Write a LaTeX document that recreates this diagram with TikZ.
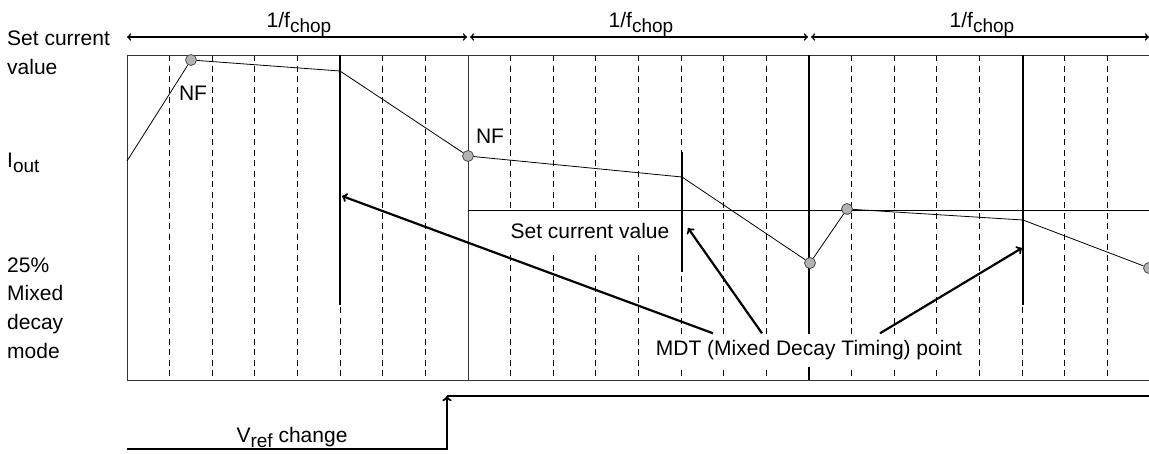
\documentclass[tikz,border=0pt]{standalone}
\usepackage{fontspec}
\setmainfont{Liberation Sans}
\usetikzlibrary{shapes,arrows,positioning,calc}

\newcommand{\lowsub}[1]{\raisebox{-5pt}{\fontsize{19}{20}\selectfont #1}}

\begin{document}
\begin{tikzpicture}[
    x=1pt, y=-1pt,
    every node/.style={font=\fontsize{21}{28.8}\selectfont, inner sep=1pt},
    frame/.style={draw=black!80, line width=1pt},
    divline/.style={dash pattern=on 6pt off 4.5pt, line width=0.8pt},
    mdtline/.style={line width=2.6pt},
    wave/.style={line width=0.8pt},
    nfpoint/.style={circle, draw=black!70, fill=black!30, line width=0.8pt, minimum size=11pt, inner sep=0pt},
    period/.style={line width=1.6pt, <->, >=to},
    pointer/.style={line width=2.2pt, ->, >=to},
    rowname/.style={anchor=west, align=left},
    whitebox/.style={fill=white, inner xsep=4pt}
]
\useasboundingbox (0,0) rectangle (1149,453);

% Chopping periods
\draw[period] (127,37) -- (467,37);
\draw[period] (470,37) -- (808,37);
\draw[period] (811,37) -- (1149,37);
\node[anchor=base] (chop1) at (299,27) {1/f\lowsub{chop}};
\node[anchor=base] (chop2) at (641,27) {1/f\lowsub{chop}};
\node[anchor=base] (chop3) at (982,27) {1/f\lowsub{chop}};

% Row names
\node[rowname] (setname) at (6,53) {Set current\\value};
\node[rowname] (ioutname) at (6,163) {I\lowsub{out}};
\node[rowname] (modename) at (6,308) {25\%\\Mixed\\decay\\mode};

% Frame and time divisions
\foreach \k in {1,...,23}
    \draw[divline] ({127+42.625*\k},55) -- ({127+42.625*\k},380);
\draw[frame] (1149,55) -- (127,55) -- (127,380) -- (1149,380);
\draw[frame] (468,55) -- (468,380);
\draw[wave] (468,210) -- (1149,210);

% MDT points
\draw[mdtline] (340,55) -- (340,305);
\draw[mdtline] (682,152) -- (682,272);
\draw[mdtline] (809,55) -- (809,380);
\draw[mdtline] (1023,55) -- (1023,305);

% Output current
\coordinate (i0) at (127,161);
\coordinate (i2) at (340,71);
\coordinate (i4) at (682,177);
\coordinate (i7) at (1023,220);
\node[nfpoint] (nf1) at (191,60) {};
\node[nfpoint] (nf2) at (468,156) {};
\node[nfpoint] (low1) at (810,263) {};
\node[nfpoint] (top1) at (847,209) {};
\node[nfpoint] (low2) at (1149,268) {};
\draw[wave] (i0) -- (nf1) -- (i2) -- (nf2) -- (i4) -- (low1) -- (top1) -- (i7) -- (low2);
\node (nf1text) at (193,93) {NF};
\node (nf2text) at (490,136) {NF};

% Labels
\node[whitebox, minimum height=38pt] (setvalue) at (590,231) {Set current value};
\node[whitebox, minimum height=33pt] (mdt) at (809,350) {MDT (Mixed Decay Timing) point};

\coordinate (mdt1) at (342,196);
\coordinate (mdt2) at (688,228);
\coordinate (mdt3) at (1022,248);
\draw[pointer] ([xshift=-96pt]mdt.north) -- (mdt1);
\draw[pointer] ([xshift=-47pt]mdt.north) -- (mdt2);
\draw[pointer] ([xshift=71pt]mdt.north) -- (mdt3);

% Vref step
\coordinate (vstart) at (127,449);
\coordinate (vfoot) at (447,449);
\coordinate (vtop) at (447,396);
\coordinate (vend) at (1149,396);
\draw[line width=2.2pt, ->, >=to] (vstart) -- (vfoot) -- (vtop);
\draw[line width=2.2pt] (vtop) -- (vend);
\node[anchor=base] (vref) at (292,442) {V\lowsub{ref} change};

\end{tikzpicture}
\end{document}
